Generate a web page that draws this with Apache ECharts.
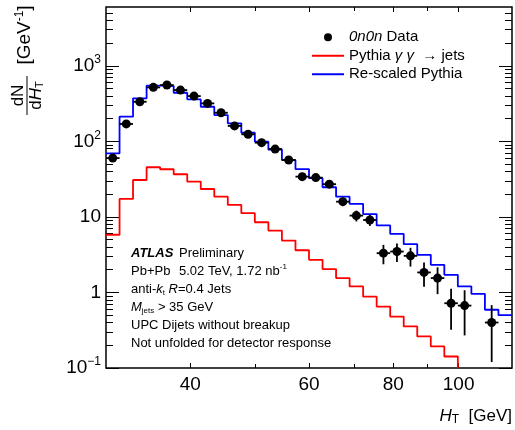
<!DOCTYPE html>
<html><head><meta charset="utf-8">
<script src="https://cdn.jsdelivr.net/npm/echarts@6/dist/echarts.min.js"></script>
<style>html,body{margin:0;padding:0;background:#fff}#c{width:515px;height:430px}</style>
</head><body><div id="c"></div>
<script>
// ---- data ----
const binEdges = [30.00, 31.42, 32.90, 34.46, 36.09, 37.80, 39.59, 41.46, 43.42, 45.47, 47.62,
  49.87, 52.23, 54.70, 57.29, 60.00, 62.84, 65.81, 68.92, 72.18, 75.59, 79.17, 82.91, 86.83,
  90.94, 95.24, 99.74, 104.46, 109.40, 114.57, 120.00];
const dataValues = [60, 170, 334, 518, 556, 477, 397, 318, 239, 160, 124, 96, 79, 56.6, 34.1,
  33.1, 27.1, 15.9, 10.4, 9.1, 3.31, 3.48, 3.05, 1.84, 1.55, 0.72, 0.67, null, 0.40];
const dataErrors = [6.5, 11, 15, 18, 18, 16, 14, 12, 10, 8, 6.5, 5.5, 4.8, 3.8, 2.8,
  2.7, 2.4, 2.0, 1.7, 1.5, 0.95, 0.95, 0.85, 0.65, 0.6, 0.4, 0.4, null, 0.28];
// Pythia gamma-gamma -> jets (bins 0..25; later bins fall below 10^-1)
const pythiaValues = [5.8, 17.3, 30.8, 45.4, 42.7, 36.7, 29.3, 23.4, 18.5, 14.4, 11.2, 8.5,
  6.6, 4.86, 3.62, 2.70, 2.04, 1.55, 1.20, 0.88, 0.65, 0.48, 0.355, 0.262, 0.193, 0.142];
const rescaledValues = [69.5, 212, 371, 545, 539, 440, 360, 287, 223, 173, 130, 99, 78, 56.6,
  43, 32.5, 24.7, 18.5, 14.9, 10.9, 7.7, 5.96, 4.36, 3.15, 2.32, 1.71, 1.20, 0.96, 0.59, 0.50];
const xMajorTicks = [40, 60, 80, 100];
const xMinorTicks = [50, 70, 90];
const yMajorTicks = [0.1, 1, 10, 100, 1000];
const yMinorTicks = [0.2, 0.3, 0.4, 0.5, 0.6, 0.7, 0.8, 0.9, 2, 3, 4, 5, 6, 7, 8, 9,
  20, 30, 40, 50, 60, 70, 80, 90, 200, 300, 400, 500, 600, 700, 800, 900, 2000, 3000, 4000, 5000];
const seriesNames = ['0n0n Data', 'Pythia γ γ → jets', 'Re-scaled Pythia'];

const X_MIN = 30, X_MAX = 120, Y_MIN = 0.1, Y_MAX = 6000;
const FONT = '"Liberation Sans", Arial, Helvetica, sans-serif';

function stepPoints(vals, dropToMin) {
  const pts = vals.map((v, i) => [binEdges[i], v]);
  const n = vals.length;
  pts.push([binEdges[n], vals[n - 1]]);
  if (dropToMin) pts.push([binEdges[n], Y_MIN]);
  return pts;
}
const points = [];
dataValues.forEach((v, i) => {
  if (v == null) return;
  const c = Math.sqrt(binEdges[i] * binEdges[i + 1]);
  points.push([c, v, dataErrors[i], binEdges[i], binEdges[i + 1]]);
});

function yLabel(v) {
  const e = Math.round(Math.log10(v));
  if (e === 0) return '1';
  if (e === 1) return '10';
  return '10{sup|' + (e < 0 ? '−' + (-e) : e) + '}';
}

const tickBase = (extra) => Object.assign({
  type: 'log', logBase: 10, splitLine: { show: false }, axisLine: { show: false },
}, extra);

const xAxes = [
  tickBase({ position: 'bottom', min: X_MIN, max: X_MAX,
    axisTick: { show: true, inside: true, length: 5, customValues: xMajorTicks, lineStyle: { color: '#000', width: 1 } },
    axisLabel: { show: true, customValues: xMajorTicks, margin: 7, color: '#000', fontSize: 19, fontFamily: FONT,
      formatter: v => String(Math.round(v)) } }),
  tickBase({ position: 'bottom', min: X_MIN, max: X_MAX,
    axisTick: { show: true, inside: true, length: 4, customValues: xMinorTicks, lineStyle: { color: '#000', width: 1 } },
    axisLabel: { show: false } }),
  tickBase({ position: 'top', min: X_MIN, max: X_MAX,
    axisTick: { show: true, inside: true, length: 5, customValues: xMajorTicks, lineStyle: { color: '#000', width: 1 } },
    axisLabel: { show: false } }),
  tickBase({ position: 'top', min: X_MIN, max: X_MAX,
    axisTick: { show: true, inside: true, length: 4, customValues: xMinorTicks, lineStyle: { color: '#000', width: 1 } },
    axisLabel: { show: false } })
];
const yAxes = [
  tickBase({ position: 'left', min: Y_MIN, max: Y_MAX,
    axisTick: { show: true, inside: true, length: 13, customValues: yMajorTicks, lineStyle: { color: '#000', width: 1 } },
    axisLabel: { show: true, customValues: yMajorTicks, margin: 5, color: '#000', fontSize: 19, fontFamily: FONT,
      formatter: yLabel,
      rich: { sup: { fontSize: 12, fontFamily: FONT, color: '#000', padding: [0, 0, 12, 0] } } } }),
  tickBase({ position: 'left', min: Y_MIN, max: Y_MAX,
    axisTick: { show: true, inside: true, length: 7, customValues: yMinorTicks, lineStyle: { color: '#000', width: 1 } },
    axisLabel: { show: false } }),
  tickBase({ position: 'right', min: Y_MIN, max: Y_MAX,
    axisTick: { show: true, inside: true, length: 13, customValues: yMajorTicks, lineStyle: { color: '#000', width: 1 } },
    axisLabel: { show: false } }),
  tickBase({ position: 'right', min: Y_MIN, max: Y_MAX,
    axisTick: { show: true, inside: true, length: 7, customValues: yMinorTicks, lineStyle: { color: '#000', width: 1 } },
    axisLabel: { show: false } })
];

const chart = echarts.init(document.getElementById('c'), null, { renderer: 'canvas' });
const txt = (t, x, y, rich, extra) => Object.assign({
  type: 'text', x: x, y: y,
  style: { text: t, font: '13px ' + FONT, fill: '#000', verticalAlign: 'middle', rich: rich || {} }
}, extra || {});
const annRich = {
  i: { fontStyle: 'italic', fontSize: 13, fontFamily: FONT },
  sub: { fontSize: 8, fontFamily: FONT, padding: [7, 0, 0, 0] },
  sup: { fontSize: 8, fontFamily: FONT, padding: [0, 0, 9, 0] }
};
const NOSYM = { color: 'rgba(0,0,0,0)', opacity: 0 };

chart.setOption({
  animation: false,
  backgroundColor: '#fff',
  textStyle: { fontFamily: FONT },
  grid: { left: 106, top: 7, width: 406, height: 361, show: true, borderColor: '#000', borderWidth: 1.5, backgroundColor: 'transparent' },
  xAxis: xAxes,
  yAxis: yAxes,
  legend: {
    data: [
      { name: seriesNames[0] },
      { name: seriesNames[1], itemStyle: NOSYM },
      { name: seriesNames[2], itemStyle: NOSYM }
    ],
    orient: 'vertical', left: 311, top: 28, padding: 0, itemWidth: 32, itemHeight: 8, itemGap: 0,
    textStyle: { fontSize: 15, lineHeight: 18.5, color: '#000', fontFamily: FONT,
      rich: { i: { fontStyle: 'italic', fontSize: 15, fontFamily: FONT, color: '#000' } } },
    formatter: n => n === '0n0n Data' ? '{i|0n0n} Data' : (n.indexOf('γ') >= 0 ? 'Pythia {i|γ γ}  → jets' : n)
  },
  series: [
    { name: seriesNames[2], type: 'line', step: 'end', symbol: 'none', data: stepPoints(rescaledValues, false),
      lineStyle: { color: '#0000ff', width: 1.8 }, itemStyle: NOSYM, z: 2 },
    { name: seriesNames[1], type: 'line', step: 'end', symbol: 'none', data: stepPoints(pythiaValues, true),
      lineStyle: { color: '#ff0000', width: 1.8 }, itemStyle: NOSYM, z: 2 },
    { name: 'errors', type: 'custom', data: points, encode: { x: 0, y: 1 }, z: 3,
      renderItem: (params, api) => {
        const x = api.value(0), y = api.value(1), e = api.value(2), lo = api.value(3), hi = api.value(4);
        const a = api.coord([x, y + e]), b = api.coord([x, y - e]);
        const l = api.coord([lo, y]), r = api.coord([hi, y]);
        const st = { stroke: '#000', lineWidth: 1.8 };
        return { type: 'group', children: [
          { type: 'line', shape: { x1: a[0], y1: a[1], x2: b[0], y2: b[1] }, style: st },
          { type: 'line', shape: { x1: l[0], y1: l[1], x2: r[0], y2: r[1] }, style: st }
        ] };
      } },
    { name: seriesNames[0], type: 'scatter', data: points.map(p => [p[0], p[1]]), symbol: 'circle', symbolSize: 9,
      itemStyle: { color: '#000', opacity: 1 }, z: 4 }
  ],
  graphic: [
    txt('{b|ATLAS}', 131, 253, { b: { fontWeight: 'bold', fontStyle: 'italic', fontSize: 13, fontFamily: FONT } }),
    txt('Preliminary', 179, 253),
    txt('Pb+Pb', 131, 271),
    txt('5.02 TeV, 1.72 nb{sup|-1}', 179, 271, annRich),
    txt('anti-{i|k}{sub|t} {i|R}=0.4 Jets', 131, 289, annRich),
    txt('{i|M}{sub|jets} > 35 GeV', 131, 307, annRich),
    txt('UPC Dijets without breakup', 131, 325),
    txt('Not unfolded for detector response', 131, 343),
    // x axis title
    { type: 'text', x: 512, y: 416, style: { text: '{i|H}{sub|T}  [GeV]', font: '17px ' + FONT, fill: '#000',
      align: 'right', verticalAlign: 'middle',
      rich: { i: { fontStyle: 'italic', fontSize: 17, fontFamily: FONT }, sub: { fontSize: 12, fontFamily: FONT, padding: [8, 0, 0, 0] } } } },
    // y axis title (rotated)
    { type: 'group', x: 27, y: 115, rotation: Math.PI / 2, children: [
      { type: 'line', shape: { x1: 0, y1: 0, x2: 39, y2: 0 }, style: { stroke: '#000', lineWidth: 1 } },
      { type: 'text', x: 19.5, y: -9, style: { text: 'dN', font: '17px ' + FONT, fill: '#000', align: 'center', verticalAlign: 'middle' } },
      { type: 'text', x: 19.5, y: 9, style: { text: 'd{i|H}{sub|T}', font: '17px ' + FONT, fill: '#000', align: 'center', verticalAlign: 'middle',
        rich: { i: { fontStyle: 'italic', fontSize: 17, fontFamily: FONT }, sub: { fontSize: 11, fontFamily: FONT, padding: [8, 0, 0, 0] } } } },
      { type: 'text', x: 80, y: -2, style: { text: '[GeV{sup|-1}]', font: '19px ' + FONT, fill: '#000', align: 'center', verticalAlign: 'middle',
        rich: { sup: { fontSize: 12, fontFamily: FONT, padding: [0, 0, 11, 0] } } } }
    ] }
  ]
});
</script></body></html>
